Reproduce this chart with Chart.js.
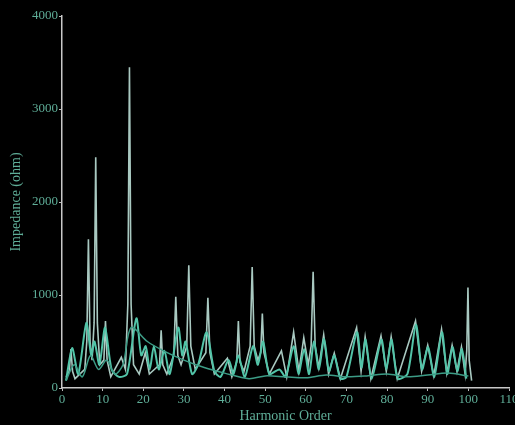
<!DOCTYPE html>
<html>
<head>
<meta charset="utf-8">
<script src="https://cdn.jsdelivr.net/npm/chart.js@4"></script>
<style>
    body { margin: 0; background: #000; }
    canvas { filter: blur(0.4px); }
</style>
</head>
<body>
<canvas id="graficoImpedancia" width="515" height="425"></canvas>
<script>
// caso 1: picos estreitos (linha clara)
const ordensCaso1 = [1, 1.8, 2.2, 2.6, 3.2, 5.6, 6.1, 6.5, 6.9, 7.4, 7.9, 8.3, 8.7, 9.3, 10.3, 10.7, 11.1, 12,
    14.6, 15.6, 16.2, 16.6, 17.0, 17.6, 19, 20.5, 21.5, 24.0, 24.4, 24.8, 25.8, 27.5, 28, 28.5, 29.3,
    30.7, 31.2, 31.7, 32.8, 35.4, 35.9, 36.4, 37.5, 40.7, 41.8, 43.0, 43.4, 43.8, 44.8, 46.3, 46.8, 47.3,
    48.2, 48.9, 49.3, 49.7, 51, 54, 55.3, 57, 58.3, 59.5, 60.6, 61.3, 61.8, 62.3, 63.2, 64.4, 65.6,
    67, 68.5, 72.5, 73.6, 74.6, 76, 78.5, 79.8, 81, 82.5, 87, 88.5, 90, 91.5, 93.4, 94.7, 96, 97.2,
    98.3, 99.2, 99.6, 99.9, 100.2, 100.8];
const valoresCaso1 = [120, 180, 420, 180, 100, 200, 500, 1600, 500, 300, 700, 2480, 700, 250, 300, 720, 300, 120,
    330, 200, 900, 3450, 900, 250, 150, 380, 150, 250, 620, 250, 150, 350, 980, 350, 250,
    450, 1320, 450, 200, 380, 970, 380, 150, 320, 120, 280, 720, 280, 180, 450, 1300, 450,
    300, 380, 800, 380, 150, 400, 120, 600, 180, 540, 250, 450, 1250, 450, 220, 570, 150,
    375, 100, 650, 180, 550, 100, 560, 180, 550, 100, 720, 180, 460, 130, 630, 160, 460, 180,
    440, 150, 400, 1080, 300, 80];

// caso 2: picos largos (linha verde-agua)
const ordensCaso2 = [1, 2.5, 4, 6, 7.2, 8, 9.2, 10.6, 12.2, 14, 16, 18.3, 19.5, 20.6, 21.6, 22.6, 23.8, 25.2,
    26.5, 28.6, 29.6, 30.4, 32, 33.5, 35.6, 37.5, 39, 41, 42.2, 43.4, 45, 47, 48.2, 49.5, 51, 53.5, 55,
    57, 58.2, 59.6, 60.8, 62, 63.2, 64.5, 65.7, 67, 68.5, 70, 72.6, 73.7, 74.7, 76.2, 78.6, 79.8, 81.1,
    82.6, 85, 87.1, 88.6, 90.1, 91.6, 93.5, 94.8, 96.1, 97.3, 98.4, 99.5];
const valoresCaso2 = [80, 430, 150, 700, 350, 500, 250, 650, 200, 120, 150, 750, 350, 450, 200, 450, 200, 400,
    150, 650, 350, 500, 150, 250, 600, 180, 120, 300, 150, 350, 120, 450, 250, 500, 150, 200, 120,
    450, 150, 420, 150, 500, 200, 530, 180, 350, 100, 120, 600, 220, 520, 100, 520, 200, 520,
    100, 150, 680, 200, 440, 120, 600, 150, 440, 180, 420, 100];

// caso 3: linha de base
const ordensCaso3 = [1, 3, 5, 7, 9, 11, 13, 15, 17, 21, 25, 30, 35, 40, 46, 50, 55, 60, 65, 70,
    75, 80, 85, 90, 95, 100];
const valoresCaso3 = [80, 250, 120, 350, 200, 300, 150, 250, 650, 500, 400, 300, 220, 160, 100, 130, 120, 110, 140, 120,
    130, 150, 120, 140, 160, 130];

const ticksX = [0, 10, 20, 30, 40, 50, 60, 70, 80, 90, 100, 110];
const ticksY = [0, 1000, 2000, 3000, 4000];

function montarPontos(ordens, valores) {
    let pontos = [];
    for (let i = 0; i < ordens.length; i++) {
        pontos.push({ x: ordens[i], y: valores[i] });
    }
    return pontos;
}

const fundoPreto = {
    id: 'fundoPreto',
    beforeDraw(chart) {
        const ctx = chart.ctx;
        ctx.save();
        ctx.fillStyle = '#000';
        ctx.fillRect(0, 0, chart.width, chart.height);
        ctx.restore();
    }
};

const corTexto = '#5fae98';
const fonteTicks = { family: '"Liberation Serif", serif', size: 13 };
const fonteTitulo = { family: '"Liberation Serif", serif', size: 14 };

new Chart(document.getElementById('graficoImpedancia'), {
    type: 'line',
    data: {
        datasets: [
            {
                label: 'Caso 3',
                data: montarPontos(ordensCaso3, valoresCaso3),
                borderColor: '#3c9c86',
                borderWidth: 1.5,
                pointRadius: 0,
                tension: 0.3
            },
            {
                label: 'Caso 2',
                data: montarPontos(ordensCaso2, valoresCaso2),
                borderColor: '#52c4a8',
                borderWidth: 2,
                pointRadius: 0,
                tension: 0.25
            },
            {
                label: 'Caso 1',
                data: montarPontos(ordensCaso1, valoresCaso1),
                borderColor: '#a9c9c1',
                borderWidth: 1.6,
                pointRadius: 0,
                tension: 0
            }
        ]
    },
    options: {
        responsive: false,
        animation: false,
        layout: {
            padding: { top: 16, right: 6, left: 8, bottom: 0 }
        },
        plugins: {
            legend: { display: false },
            tooltip: { enabled: false }
        },
        scales: {
            x: {
                type: 'linear',
                min: 0,
                max: 110,
                afterBuildTicks: function (scale) {
                    scale.ticks = ticksX.map(v => ({ value: v }));
                },
                afterFit: function (scale) {
                    scale.height = 37;
                    scale.paddingLeft = 0;
                    scale.paddingRight = 0;
                },
                ticks: {
                    color: corTexto,
                    font: fonteTicks,
                    padding: 1,
                    maxRotation: 0,
                    callback: function (valor) {
                        return String(valor);
                    }
                },
                grid: {
                    drawOnChartArea: false,
                    drawTicks: true,
                    tickLength: 3,
                    color: '#bbbbbb'
                },
                border: { color: '#c8c8c8', width: 1.5 },
                title: {
                    display: true,
                    text: 'Harmonic Order',
                    color: corTexto,
                    font: fonteTitulo,
                    padding: { top: 0, bottom: 0 }
                }
            },
            y: {
                min: 0,
                max: 4000,
                afterBuildTicks: function (scale) {
                    scale.ticks = ticksY.map(v => ({ value: v }));
                },
                afterFit: function (scale) {
                    scale.width = 54;
                    scale.paddingTop = 0;
                    scale.paddingBottom = 0;
                },
                ticks: {
                    color: corTexto,
                    font: fonteTicks,
                    padding: 1,
                    callback: function (valor) {
                        return String(valor);
                    }
                },
                grid: {
                    drawOnChartArea: false,
                    drawTicks: true,
                    tickLength: 3,
                    color: '#bbbbbb'
                },
                border: { color: '#c8c8c8', width: 1.5 },
                title: {
                    display: true,
                    text: 'Impedance (ohm)',
                    color: corTexto,
                    font: fonteTitulo,
                    padding: { top: 0, bottom: 2 }
                }
            }
        }
    },
    plugins: [fundoPreto]
});
</script>
</body>
</html>
